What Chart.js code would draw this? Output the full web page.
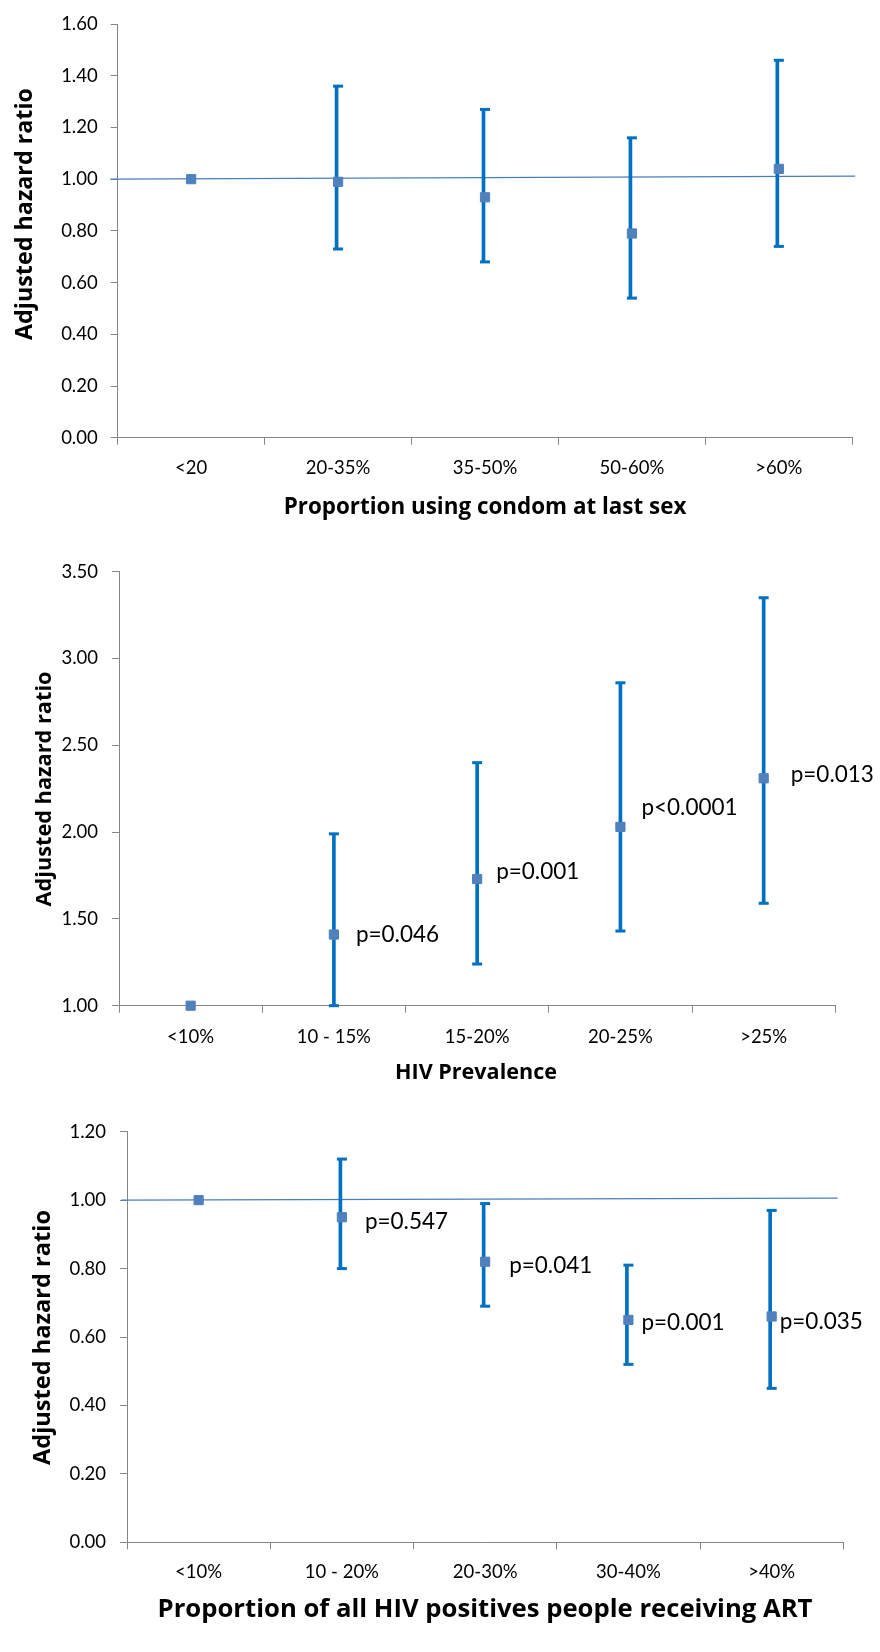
<!DOCTYPE html>
<html><head><meta charset="utf-8">
<script src="https://cdn.jsdelivr.net/npm/chart.js@4.4.1/dist/chart.umd.min.js"></script>
<style>
html,body{margin:0;padding:0;background:#fff;}
body{width:880px;height:1652px;position:relative;overflow:hidden;}
canvas{position:absolute;left:0;display:block;}
</style></head><body>
<canvas id="c1" width="880" height="530" style="top:0px"></canvas>
<canvas id="c2" width="880" height="565" style="top:530px"></canvas>
<canvas id="c3" width="880" height="557" style="top:1095px"></canvas>
<script>
// ---- Data ----
const condomCats = ['<20', '20-35%', '35-50%', '50-60%', '>60%'];
const condomHR   = [1.00, 0.99, 0.93, 0.79, 1.04];
const condomLow  = [null, 0.73, 0.68, 0.54, 0.74];
const condomHigh = [null, 1.36, 1.27, 1.16, 1.46];
const condomRef  = [{x: -0.55, y: 1.000}, {x: 4.52, y: 1.012}];

const prevCats = ['<10%', '10 - 15%', '15-20%', '20-25%', '>25%'];
const prevHR   = [1.00, 1.41, 1.73, 2.03, 2.31];
const prevLow  = [null, 1.00, 1.24, 1.43, 1.59];
const prevHigh = [null, 1.99, 2.40, 2.86, 3.35];
const prevP    = ['', 'p=0.046', 'p=0.001', 'p<0.0001', 'p=0.013'];

const artCats = ['<10%', '10 - 20%', '20-30%', '30-40%', '>40%'];
const artHR   = [1.00, 0.95, 0.82, 0.65, 0.66];
const artLow  = [null, 0.80, 0.69, 0.52, 0.45];
const artHigh = [null, 1.12, 0.99, 0.81, 0.97];
const artP    = ['', 'p=0.547', 'p=0.041', 'p=0.001', 'p=0.035'];
const artRef  = [{x: -0.54, y: 1.000}, {x: 4.46, y: 1.006}];

const yTitle = 'Adjusted hazard ratio';

// ---- Styles ----
const F = 'Lato, "Open Sans", sans-serif';
const FT = '"Open Sans", Lato, sans-serif';
const BAR = '#0070C0';
const MARK = '#4F81BD';
const REF = '#4A7EBB';
const AX = '#868686';

const measCtx = document.createElement('canvas').getContext('2d');
function fitSize(text, width) {
  measCtx.font = 'bold 100px ' + FT;
  return 100 * width / measCtx.measureText(text).width;
}

const pLabelPlugin = {
  id: 'pLabels',
  afterDatasetsDraw(chart, args, opts) {
    if (!opts || !opts.labels) return;
    const meta = chart.getDatasetMeta(0);
    const ctx = chart.ctx;
    ctx.save();
    ctx.font = opts.size + 'px ' + F;
    ctx.fillStyle = '#000';
    ctx.textBaseline = 'middle';
    ctx.textAlign = 'left';
    opts.labels.forEach((t, i) => {
      if (!t) return;
      const el = meta.data[i];
      ctx.fillText(t, el.x + opts.dx[i], el.y + opts.dy[i]);
    });
    ctx.restore();
  }
};

const axisTitlePlugin = {
  id: 'axisTitles',
  afterDraw(chart, args, opts) {
    if (!opts || !opts.items) return;
    const ctx = chart.ctx;
    opts.items.forEach(it => {
      const size = fitSize(it.text, it.w);
      ctx.save();
      ctx.font = 'bold ' + size.toFixed(2) + 'px ' + FT;
      ctx.fillStyle = '#000';
      ctx.textAlign = 'center';
      ctx.textBaseline = 'alphabetic';
      ctx.translate(it.x, it.y);
      if (it.rot) ctx.rotate(it.rot * Math.PI / 180);
      ctx.fillText(it.text, 0, 0);
      ctx.restore();
    });
  }
};

function build(id, o) {
  const datasets = [
    {type: 'line', data: o.hr, xAxisID: 'x', yAxisID: 'y', showLine: false,
     pointStyle: 'rect', pointRadius: 6.5, pointBorderWidth: 1,
     pointBackgroundColor: MARK, pointBorderColor: MARK, backgroundColor: MARK, borderColor: MARK,
     clip: false, order: 0},
    {type: 'line', data: o.low, xAxisID: 'x', yAxisID: 'y', showLine: false,
     pointStyle: 'line', pointRadius: 5, pointBorderWidth: 3,
     pointBorderColor: BAR, borderColor: BAR, clip: false, order: 1},
    {type: 'line', data: o.high, xAxisID: 'x', yAxisID: 'y', showLine: false,
     pointStyle: 'line', pointRadius: 5, pointBorderWidth: 3,
     pointBorderColor: BAR, borderColor: BAR, clip: false, order: 1},
    {type: 'bar', data: o.low.map((l, i) => l == null ? null : [l, o.high[i]]),
     xAxisID: 'x', yAxisID: 'y', backgroundColor: BAR, borderWidth: 0,
     barThickness: 3, clip: false, order: 2}
  ];
  if (o.ref) {
    datasets.push({type: 'line', data: o.ref, xAxisID: 'xl', yAxisID: 'y',
      borderColor: REF, borderWidth: 1.2, pointRadius: 0, clip: false, order: 3});
  }
  return new Chart(document.getElementById(id), {
    type: 'bar',
    data: {labels: o.cats, datasets},
    plugins: [pLabelPlugin, axisTitlePlugin],
    options: {
      responsive: false,
      animation: false,
      events: [],
      layout: {padding: {top: o.padTop, right: o.padRight, left: 0, bottom: 0}},
      plugins: {
        legend: {display: false},
        tooltip: {enabled: false},
        pLabels: o.p ? {labels: o.p, dx: o.pdx, dy: o.pdy, size: 22.5} : {},
        axisTitles: {items: [
          {text: yTitle, x: o.yT[0], y: o.yT[1], w: o.yT[2], rot: -90},
          {text: o.xTitle, x: o.xT[0], y: o.xT[1], w: o.xT[2], rot: 0}
        ]}
      },
      scales: {
        x: {
          type: 'category', position: 'bottom', offset: true,
          grid: {offset: true, drawOnChartArea: false, drawTicks: true, tickLength: 7, color: AX},
          border: {display: true, color: AX, width: 1},
          ticks: {color: '#000', font: {family: F, size: 18.5}, padding: o.xTickPad, maxRotation: 0, autoSkip: false},
          title: {display: false},
          afterFit: s => { s.height = o.xH; }
        },
        xl: {type: 'linear', display: false, offset: false, min: -0.5, max: 4.5,
             grid: {offset: false}},
        y: {
          type: 'linear', position: 'left', min: o.ymin, max: o.ymax,
          grid: {drawOnChartArea: false, drawTicks: true, tickLength: 7, color: AX},
          border: {display: true, color: AX, width: 1},
          ticks: {stepSize: o.step, color: '#000', font: {family: F, size: 18.5}, padding: o.yTickPad,
                  callback: v => Number(v).toFixed(2)},
          title: {display: false},
          afterFit: s => { s.width = o.yW; }
        }
      }
    }
  });
}

build('c1', {
  cats: condomCats, hr: condomHR, low: condomLow, high: condomHigh, ref: condomRef,
  xTitle: 'Proportion using condom at last sex',
  yT: [32.3, 214, 252], xT: [485, 514, 403],
  padTop: 23.3, padRight: 27.7, xH: 92.3, yW: 117.7, xTickPad: 12.5, yTickPad: 13,
  ymin: 0, ymax: 1.6, step: 0.2
});

build('c2', {
  cats: prevCats, hr: prevHR, low: prevLow, high: prevHigh,
  p: prevP, pdx: [0, 22, 19, 21, 27], pdy: [0, 0, -7, -19, -4],
  xTitle: 'HIV Prevalence',
  yT: [50.7, 259, 235], xT: [476, 549.3, 162],
  padTop: 41.7, padRight: 44.7, xH: 89.3, yW: 119, xTickPad: 13, yTickPad: 14,
  ymin: 1, ymax: 3.5, step: 0.5
});

build('c3', {
  cats: artCats, hr: artHR, low: artLow, high: artHigh, ref: artRef,
  p: artP, pdx: [0, 23, 24, 13, 8], pdy: [0, 5, 4, 3, 5],
  xTitle: 'Proportion of all HIV positives people receiving ART',
  yT: [50, 242.5, 255], xT: [485, 522.3, 655],
  padTop: 36.7, padRight: 36.7, xH: 109.7, yW: 127, xTickPad: 11.6, yTickPad: 14,
  ymin: 0, ymax: 1.2, step: 0.2
});
</script>
</body></html>
